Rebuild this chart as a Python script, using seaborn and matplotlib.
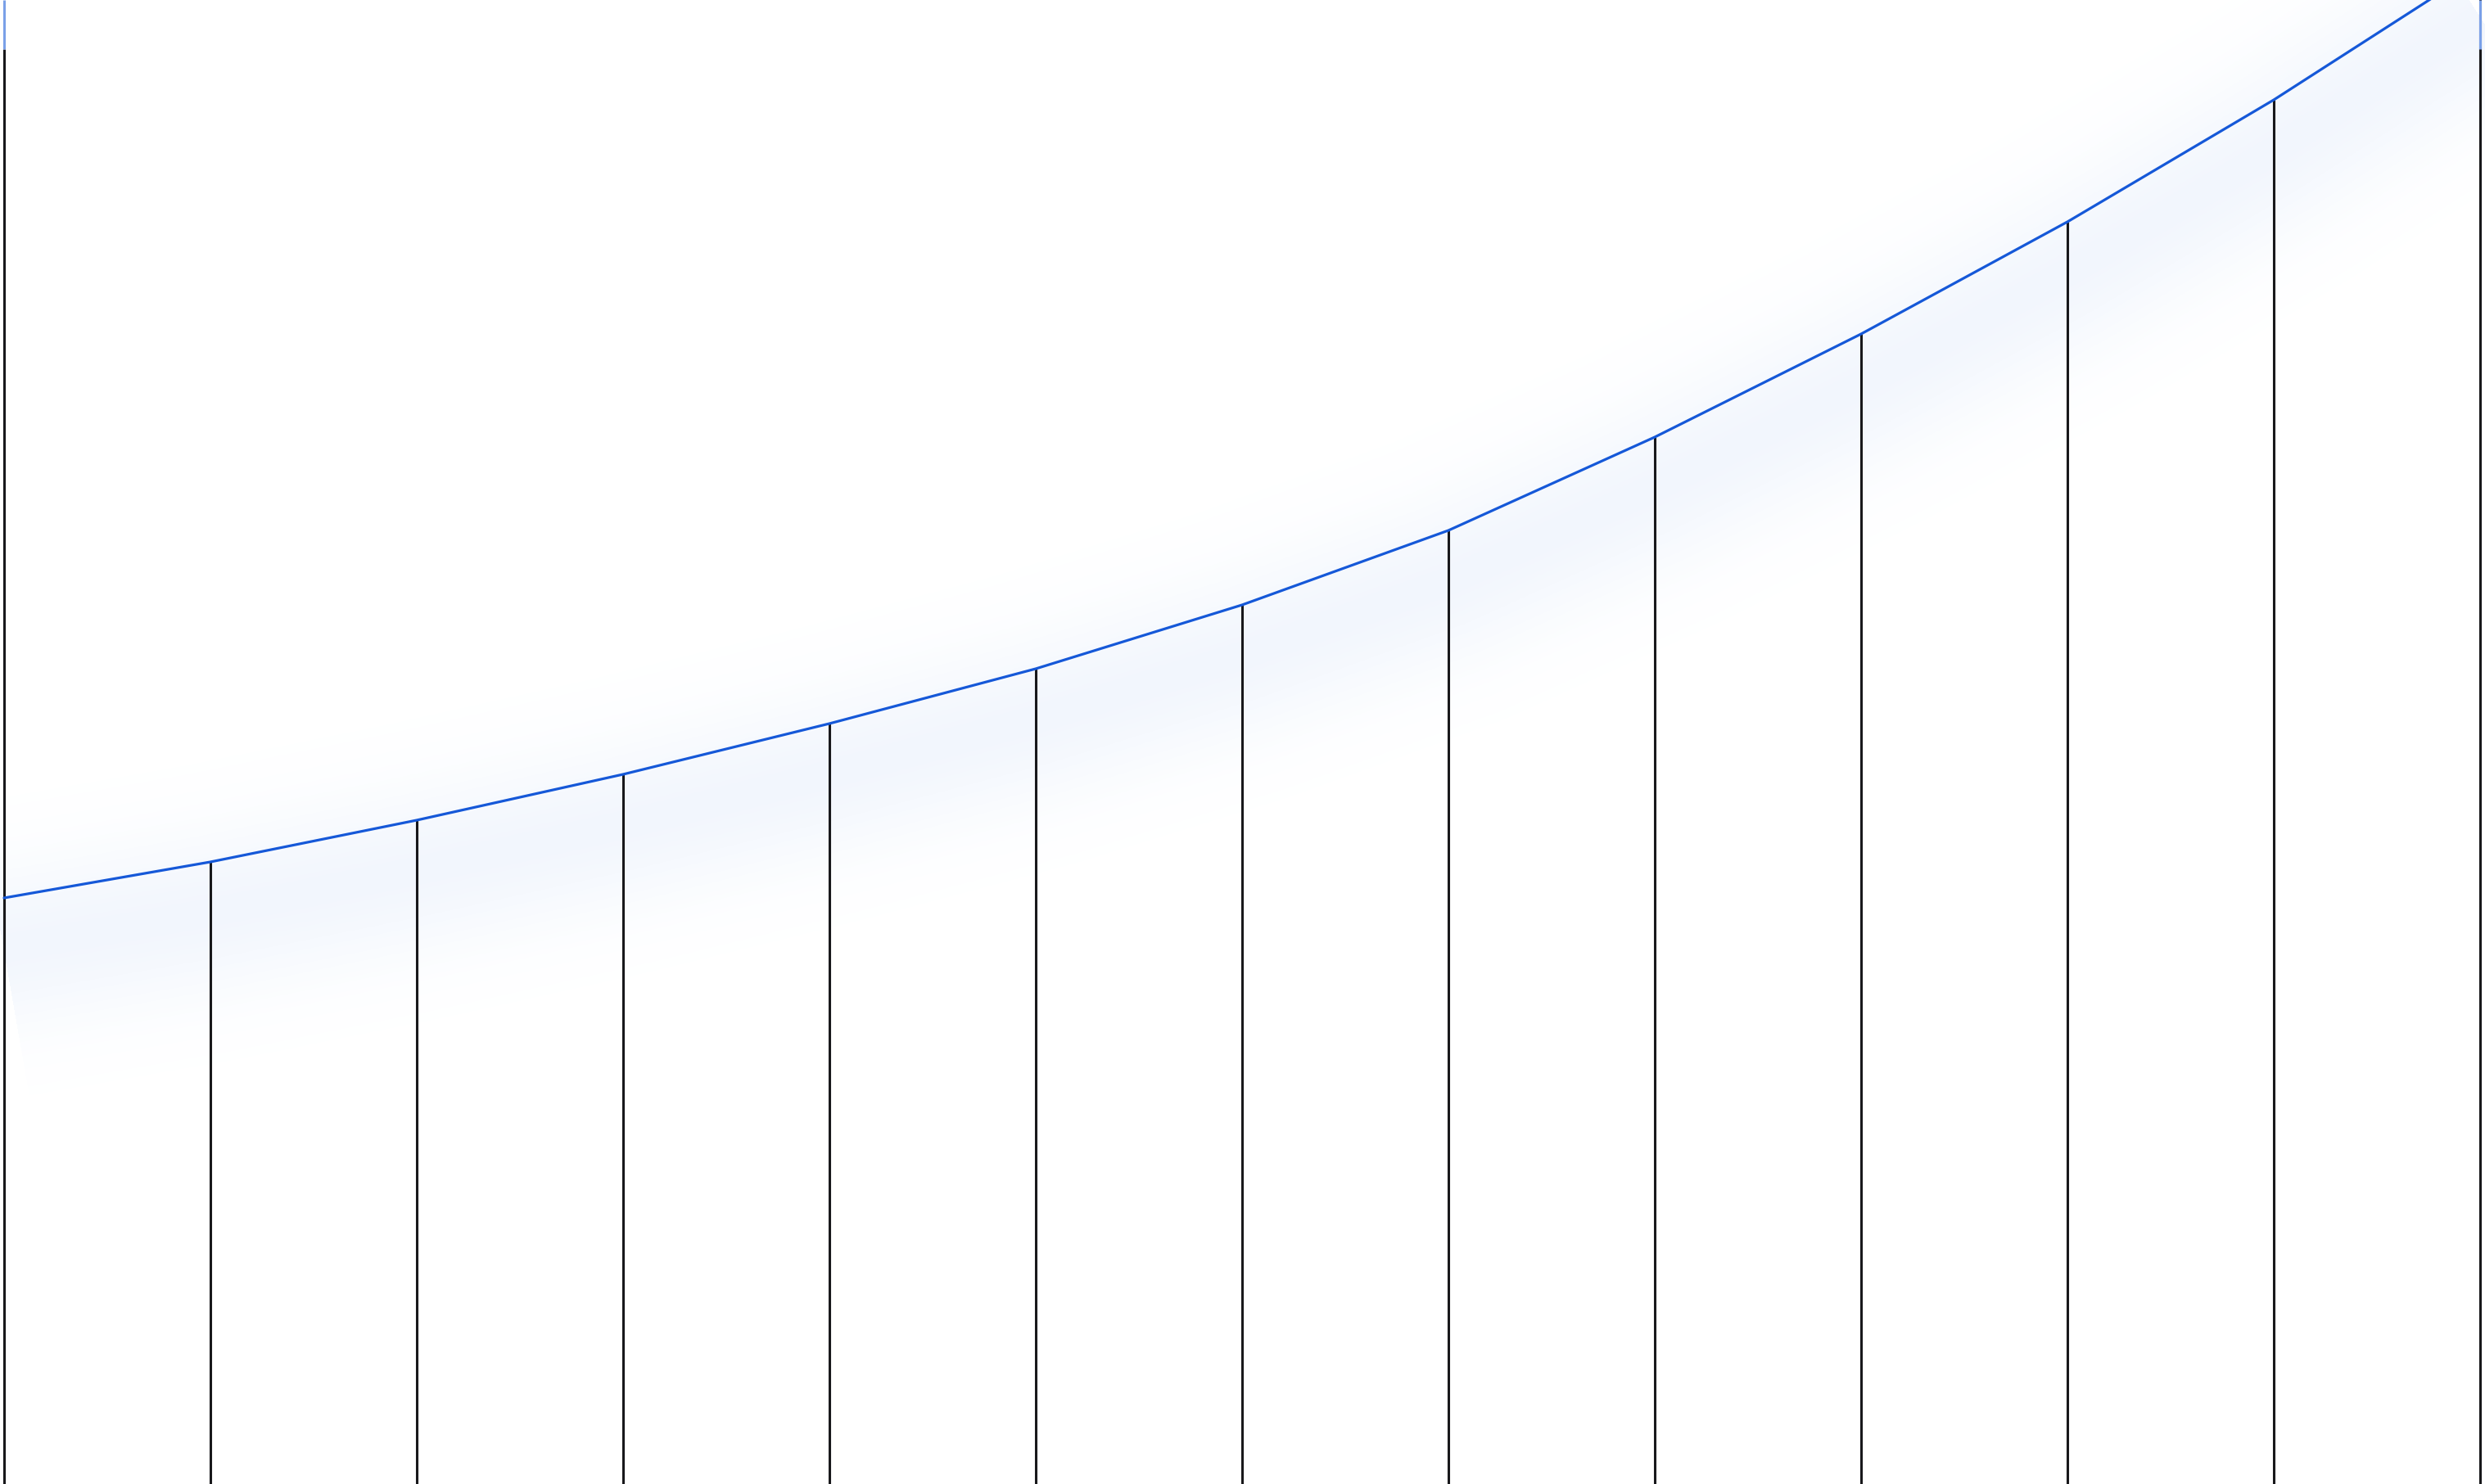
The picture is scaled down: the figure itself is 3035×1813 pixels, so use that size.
import numpy as np
import pandas as pd
import matplotlib
matplotlib.use('Agg')
import matplotlib.pyplot as plt
import seaborn as sns

# values (height above the bottom edge, in pixels of the 3035x1813 image)
steps = list(range(13))
values = [716, 760, 811, 867, 929, 996, 1074, 1165, 1279, 1405, 1542, 1691, 1853]

df = pd.DataFrame({'step': steps, 'value': values})

sns.set_theme(style='white')
fig = plt.figure(figsize=(30.35, 18.13), dpi=100)
ax = fig.add_axes([0, 0, 1, 1])

blue = '#1558d8'
dark = '#18181b'

# soft glow under the line, shifted down a bit; solid pale layers, widest first
glow = np.array(values) - 62
peak = np.array([0.949, 0.965, 0.992])
sigma = 72.0
for half in np.linspace(220, 6, 40):
    g = np.exp(-half ** 2 / (2 * sigma ** 2))
    col = 1 - g * (1 - peak)
    ax.plot(steps, glow, color=tuple(col), lw=2 * half * 0.72,
            solid_capstyle='butt', solid_joinstyle='round', zorder=1)

# stems from the line down to the bottom
ax.vlines(df['step'], 0, df['value'], color=dark, lw=2.2, zorder=2)

# edge lines, blue at the very top
ax.vlines([0, 12], 0, 1753, color=dark, lw=2.2, zorder=2)
ax.vlines([0, 12], 1753, 1813, color='#7aa0e8', lw=2.2, zorder=2)

sns.lineplot(data=df, x='step', y='value', color=blue, lw=2.3, ax=ax, zorder=3)

ax.set_xlim(-5 / 252, 12 + 6 / 252)
ax.set_ylim(0, 1813)
ax.set_axis_off()

fig.savefig('out.png', dpi=100)
